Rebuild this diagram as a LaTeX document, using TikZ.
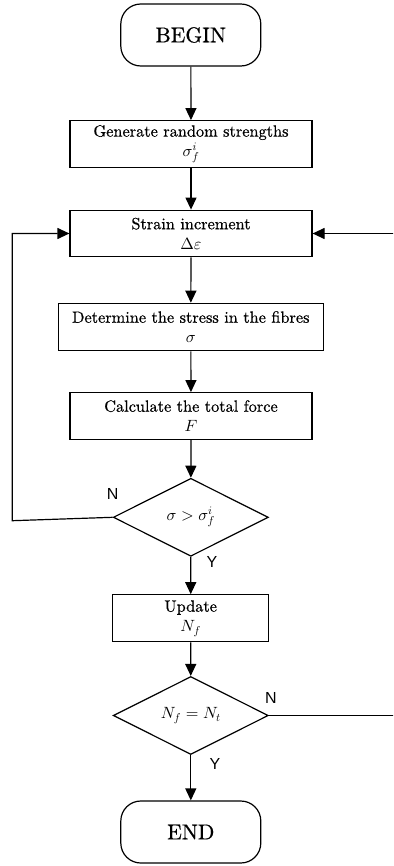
\RequirePackage{fix-cm}
\documentclass[tikz,border=0pt]{standalone}
\usepackage{fontspec}
% text in the 10pt design size, scaled up
\setmainfont{lmroman10-regular}[Extension=.otf, ItalicFont=lmroman10-italic, BoldFont=lmroman10-bold, FakeBold=0.6]
\newfontfamily\labelfont{Liberation Sans}
% math letters also from the 10pt design, at any size
\DeclareFontFamily{OML}{cmm}{\skewchar\font127}
\DeclareFontShape{OML}{cmm}{m}{it}{<-> cmmi10}{}
\DeclareFontShape{OT1}{cmr}{m}{n}{<-> cmr10}{}
\usetikzlibrary{shapes.geometric,arrows.meta}

\tikzset{
  flow/.style={line width=1.2pt, -{Triangle[length=12pt,width=11pt]}},
  terminal/.style={draw, line width=1.2pt, rounded corners=20pt,
    minimum width=140pt, minimum height=62pt,
    font=\fontsize{21.5}{25}\selectfont},
  process/.style={draw, line width=1.2pt, align=center, inner sep=0pt,
    minimum width=242pt, minimum height=46.6pt,
    font=\fontsize{16.3}{20}\selectfont},
  decision/.style={draw, diamond, line width=1.2pt, aspect=2, inner sep=1pt,
    minimum width=155pt, minimum height=78pt,
    font=\fontsize{16.3}{20}\selectfont},
  yn/.style={font=\labelfont\fontsize{16}{18}\selectfont, inner sep=0pt}
}

\begin{document}
\begin{tikzpicture}[x=1pt, y=1pt]
  \useasboundingbox (0,0) rectangle (393,-866);
  \clip (0,0) rectangle (393,-866);

  % main chain of steps
  \node[terminal] (begin) at (190.8,-35) {BEGIN};
  \node[process] (gen) at (191,-144) {Generate random strengths\\$\sigma_f^i$};
  \node[process] (strain) at (191,-233.5) {Strain increment\\$\Delta\varepsilon$};
  \node[process, minimum width=265pt, minimum height=47.4pt] (stress) at (190.8,-327) {Determine the stress in the fibres\\$\sigma$};
  \node[process] (force) at (191,-416) {Calculate the total force\\$F$};
  \node[decision] (check) at (190.8,-517.3) {$\sigma > \sigma_f^i$};
  \node[process, minimum width=156pt, minimum height=47pt] (update) at (190.7,-618.3) {Update\\$N_f$};
  \node[decision] (done) at (190.8,-715.5) {$N_f = N_t$};
  \node[terminal] (end) at (190.8,-832) {END};

  \draw[flow] (begin) -- (gen);
  \draw[flow] (gen) -- (strain);
  \draw[flow] (strain) -- (stress);
  \draw[flow] (stress) -- (force);
  \draw[flow] (force) -- (check);
  \draw[flow] (check) -- (update);
  \draw[flow] (update) -- (done);
  \draw[flow] (done) -- (end);

  % feedback loops back to the strain increment
  \coordinate (leftcorner) at (12.3,-520.7);
  \coordinate (rightcorner) at (400,-715.5);
  \draw[flow] (check.west) -- (leftcorner) |- (strain.west);
  \draw[flow] (done.east) -- (rightcorner) |- (strain.east);

  % branch labels
  \node[yn] (n1) at (112.7,-494) {N};
  \node[yn] (y1) at (212,-562) {Y};
  \node[yn] (n2) at (271,-697.5) {N};
  \node[yn] (y2) at (215,-763.5) {Y};
\end{tikzpicture}
\end{document}
